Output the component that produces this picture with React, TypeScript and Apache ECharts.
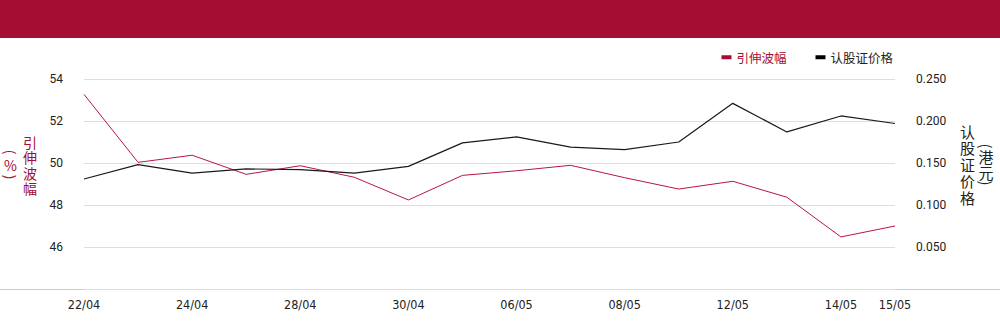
import React, { useEffect, useRef } from "react";
import * as echarts from "echarts";

const categories = ["22/04", "23/04", "24/04", "25/04", "28/04", "29/04", "30/04", "02/05", "06/05", "07/05", "08/05", "09/05", "12/05", "13/05", "14/05", "15/05"];
const volatility = [53.27, 50.03, 50.37, 49.46, 49.87, 49.32, 48.24, 49.41, 49.63, 49.89, 49.3, 48.76, 49.13, 48.37, 46.48, 47.0];
const warrantPrice = [0.131, 0.148, 0.138, 0.143, 0.142, 0.138, 0.146, 0.174, 0.181, 0.169, 0.166, 0.175, 0.221, 0.187, 0.206, 0.197];
const leftTicks = { min: 44, max: 54, interval: 2 };
const rightTicks = { min: 0, max: 0.25, interval: 0.05 };

const RED = "#A50D33";
const LINE_RED = "#B8163F";
const DARK = "#1a1a1a";
const NUM_FONT = 'Roboto, "Liberation Sans", "Noto Sans CJK SC", sans-serif';
const CJK_FONT = '"Noto Sans CJK SC", "Noto Sans", sans-serif';

function vText(text: string, x: number, y: number, fill: string, fontSize: number, lineHeight: number, rotation = 0) {
  return {
    type: "text",
    x,
    y,
    rotation,
    silent: true,
    style: { text, fill, fontSize, lineHeight, fontFamily: CJK_FONT, align: "center", verticalAlign: "middle" },
  };
}

export default function App() {
  const ref = useRef<HTMLDivElement>(null);
  useEffect(() => {
    if (!ref.current) return;
    const chart = echarts.init(ref.current, undefined, { renderer: "svg" });
    const last = categories.length - 1;
    const cw = -Math.PI / 2;
    chart.setOption({
      animation: false,
      backgroundColor: "#fff",
      grid: { left: 84, right: 105, top: 79, bottom: 35, containLabel: false },
      legend: {
        right: 102,
        top: 46,
        icon: "rect",
        itemWidth: 10,
        itemHeight: 4,
        itemGap: 29,
        textStyle: { fontSize: 12.5, fontFamily: CJK_FONT },
        data: [
          { name: "引伸波幅", textStyle: { color: RED } },
          { name: "认股证价格", textStyle: { color: "#222" } },
        ],
      },
      xAxis: {
        type: "category",
        data: categories,
        boundaryGap: false,
        axisLine: { show: false },
        axisTick: { show: false },
        axisLabel: {
          interval: (i: number) => i % 2 === 0 || i === last,
          margin: 9,
          fontSize: 12.5,
          color: "#222",
          fontFamily: '"Liberation Sans Narrow", "DejaVu Sans Condensed", sans-serif',
        },
        splitLine: { show: false },
      },
      yAxis: [
        {
          type: "value",
          min: leftTicks.min,
          max: leftTicks.max,
          interval: leftTicks.interval,
          axisLine: { show: false },
          axisTick: { show: false },
          axisLabel: { showMinLabel: false, margin: 21, fontSize: 12, color: "#222", fontFamily: NUM_FONT },
          splitLine: { show: true, lineStyle: { color: "#dedede", width: 1 } },
        },
        {
          type: "value",
          min: rightTicks.min,
          max: rightTicks.max,
          interval: rightTicks.interval,
          axisLine: { show: false },
          axisTick: { show: false },
          axisLabel: {
            showMinLabel: false,
            margin: 21,
            fontSize: 12,
            color: "#222",
            fontFamily: NUM_FONT,
            formatter: (v: number) => v.toFixed(3),
          },
          splitLine: { show: false },
        },
      ],
      series: [
        {
          name: "引伸波幅",
          type: "line",
          yAxisIndex: 0,
          data: volatility,
          showSymbol: false,
          symbol: "none",
          lineStyle: { color: LINE_RED, width: 1 },
          itemStyle: { color: RED },
        },
        {
          name: "认股证价格",
          type: "line",
          yAxisIndex: 1,
          data: warrantPrice,
          showSymbol: false,
          symbol: "none",
          lineStyle: { color: DARK, width: 1.2 },
          itemStyle: { color: "#000" },
        },
      ],
      graphic: [
        { type: "rect", shape: { x: 0, y: 0, width: 1000, height: 38 }, style: { fill: RED }, silent: true },
        { type: "line", shape: { x1: 0, y1: 289.5, x2: 1000, y2: 289.5 }, style: { stroke: "#cccccc", lineWidth: 1 }, silent: true },
        vText("引\n伸\n波\n幅", 30, 165, RED, 14, 15.5),
        vText("(", 10.5, 152, RED, 14, 15.5, cw),
        vText("%", 10.5, 164.5, RED, 14, 15.5),
        vText(")", 10.5, 177, RED, 14, 15.5, cw),
        vText("认\n股\n证\n价\n格", 967.5, 164, "#222", 15, 16.5),
        vText("(", 986, 146, "#222", 15, 16, cw),
        vText("港\n元", 986, 164.5, "#222", 15, 16),
        vText(")", 986, 183, "#222", 15, 16, cw),
      ],
    });
    return () => chart.dispose();
  }, []);
  return <div ref={ref} style={{ position: "fixed", left: 0, top: 0, width: 1000, height: 324 }} />;
}
